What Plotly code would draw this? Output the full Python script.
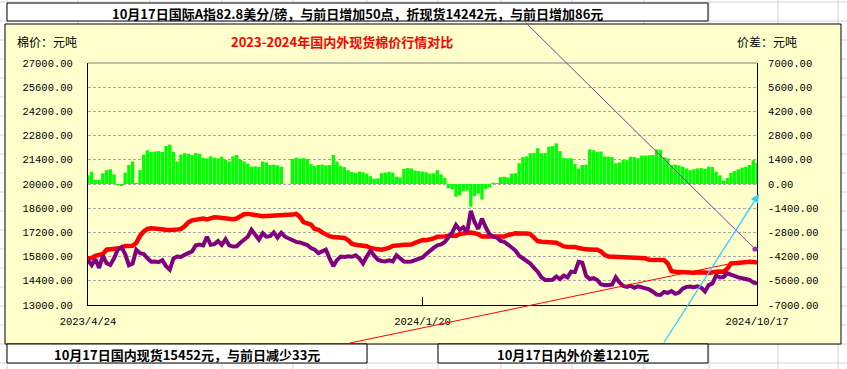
import plotly.graph_objects as go

W, H = 847, 369
PL, PR, PT, PB = 88, 757, 63, 305

x_tick_pos = [0, 90, 180]
x_tick_labels = ["2023/4/24", "2024/1/20", "2024/10/17"]

domestic = [
    15700, 15720, 15850, 15890, 15950, 16200, 16230, 16210, 16240, 16300,
    16420, 16400, 16430, 16600, 17000, 17250, 17400, 17440, 17420, 17450,
    17380, 17340, 17320, 17350, 17360, 17400, 17550, 17780, 17900, 17950,
    17960, 18000, 17950, 18050, 18080, 18060, 18030, 17990, 17980, 17960,
    18000, 18100, 18250, 18270, 18230, 18160, 18150, 18140, 18150, 18160,
    18140, 18150, 18160, 18150, 18180, 18230, 18270, 18100, 17800, 17720,
    17650, 17400, 17350, 17200, 17060, 16980, 16930, 16920, 16900, 16880,
    16750, 16550, 16480, 16460, 16470, 16400, 16300, 16240, 16220, 16200,
    16230, 16300, 16420, 16470, 16460, 16490, 16470, 16500, 16600, 16700,
    16760, 16750, 16780, 16850, 16950, 16990, 16970, 17000, 16990, 17010,
    17100, 17170, 17180, 17190, 17170, 17100, 16960, 16950, 16940, 16960,
    16950, 16930, 16960, 17050, 17130, 17150, 17140, 17150, 17130, 17100,
    16900, 16700, 16660, 16650, 16670, 16640, 16600, 16500, 16390, 16370,
    16380, 16360, 16300, 16230, 16220, 16210, 16230, 16200, 16100, 15900,
    15800, 15790, 15800, 15780, 15760, 15750, 15760, 15750, 15740, 15760,
    15700, 15610, 15600, 15610, 15590, 15600, 15400, 14950, 14920, 14900,
    14870, 14880, 14860, 14870, 14890, 14900, 14880, 14850, 14920, 14930,
    14940, 14920, 15100, 15400, 15420, 15450, 15500, 15510, 15500, 15485,
    15452,
]

international = [
    15600, 15300, 15650, 15150, 15850, 15420, 15320, 15700, 16200, 16350,
    15950, 15300, 15400, 16200, 16000, 15950, 15700, 15500, 15520, 15480,
    15600, 15250, 15050, 15700, 15800, 15780, 15900, 15980, 16100, 16450,
    16500, 16450, 16950, 16480, 16520, 16700, 16480, 16800, 16450, 16380,
    16400, 16600, 16750, 16950, 17350, 17100, 16780, 17150, 16950, 16980,
    17200, 16900, 17180, 16950, 16850, 16780, 16650, 16620, 16550, 16470,
    16300, 16200, 16000, 16100, 16200, 15700, 15250, 15600, 15800, 15780,
    15820, 15790, 15880, 15700, 15400, 15800, 16150, 15850, 15620, 15550,
    15520, 15580, 15520, 15880, 15700, 15510, 15500, 15520, 15600, 15680,
    15750, 15950, 16150, 16300, 16450, 16500, 16650, 16900, 17200, 17630,
    17350, 17500, 17200, 18450, 17800, 17400, 18000, 17500, 17100, 16950,
    16900, 16700, 16650, 16500, 16300, 16150, 15850, 15700, 15550, 15400,
    15150, 14930, 14600, 14450, 14440, 14460, 14650, 14500, 14700, 14600,
    14930, 14900, 15500, 15450, 14700, 14500, 14550, 14450, 14200, 14150,
    14160, 14180, 14600, 14300, 14100, 14050, 14120, 14000, 14080, 14030,
    14000, 13900, 13770, 13600, 13580, 13750, 13700, 13800, 13650, 13720,
    13950, 14050, 14070, 14030, 14080, 14000, 13780, 14150, 14250, 14700,
    14600, 14620, 14830, 14750, 14620, 14600, 14550, 14480, 14450, 14300,
    14242,
]

spread = [
    500, 700, 250, 230, 620, 800, 850, 550, -80, -120,
    650, 1100, 1300, 60, 800, 1700, 1950, 1850, 1880, 1900,
    1850, 2200, 2280, 1850, 1300, 1700, 1780, 1750, 1680, 1790,
    1750, 1500, 1480, 1600, 1520, 1480, 1580, 1400, 1300, 1600,
    1680, 1400, 1300, 1180, 1000, 1020, 980, 1300, 1250, 1100,
    1120, 1080, 1000, None, None, 1450, 1520, 1480, 1500, 1450,
    1150, 1050, 1100, 1120, 1080, 1100, 1680, 1300, 1050, 980,
    800, 700, 650, 720, 680, 600, 450, 300, 320, 620,
    660, 700, 650, 420, 380, 880, 920, 900, 780, 750,
    720, 680, 600, 620, 800, 550, 350, -250, -300, -730,
    -650, -400, -380, -1310, -700, -560, -900, -300, -200, 80,
    60, 400, 420, 380, 600, 620, 1200, 1550, 1600, 1780,
    1800, 2070, 1780, 1800, 2160, 2200, 2350, 1900, 1500, 1480,
    1490, 1150, 900, 1100, 1120, 2000, 1950, 1870, 1880, 1600,
    1580, 1550, 1200, 1250, 1400, 1380, 1580, 1560, 1490, 1650,
    1640, 1660, 1680, 2000, 1980, 1550, 1480, 1100, 1120, 1080,
    1000, 900, 800, 850, 900, 920, 880, 1000, 980, 700,
    500, 200, 350, 650, 750, 850, 950, 1000, 1100, 1380,
    1210,
]

left_tick_vals = [13000, 14400, 15800, 17200, 18600, 20000, 21400, 22800, 24200, 25600, 27000]
right_tick_vals = [-7000, -5600, -4200, -2800, -1400, 0, 1400, 2800, 4200, 5600, 7000]
left_tick_text = [f"{v:.2f}" for v in left_tick_vals]
right_tick_text = [f"{v:.2f}" for v in right_tick_vals]

title_text = "2023-2024年国内外现货棉价行情对比"
left_unit = "棉价：元吨"
right_unit = "价差：元吨"
top_note = "10月17日国际A指82.8美分/磅，与前日增加50点，折现货14242元，与前日增加86元"
bottom_left_note = "10月17日国内现货15452元，与前日减少33元"
bottom_right_note = "10月17日内外价差1210元"

idx = list(range(len(domestic)))


def fx(px):
    return (px - PL) / (PR - PL)


def fy(py):
    return (PB - py) / (PB - PT)


fig = go.Figure()
fig.add_trace(go.Bar(x=idx, y=spread, yaxis="y2", marker=dict(color="#00FF00", line=dict(width=0)),
                     name="价差"))
fig.add_trace(go.Scatter(x=idx, y=domestic, mode="lines", line=dict(color="#FF0000", width=4.5),
                         name="国内现货"))
fig.add_trace(go.Scatter(x=idx, y=international, mode="lines", line=dict(color="#800080", width=4),
                         name="国际折现货"))

shapes = []
GRID = "#D4D4D4"
for gy in range(2, H, 19):
    shapes.append(dict(type="line", xref="paper", yref="paper", x0=fx(0), x1=fx(W), y0=fy(gy), y1=fy(gy),
                       line=dict(color=GRID, width=1), layer="below"))
for gx in [7, 78, 150, 222, 293, 367, 438, 501, 572, 644, 709, 778, 838]:
    shapes.append(dict(type="line", xref="paper", yref="paper", x0=fx(gx), x1=fx(gx), y0=fy(0), y1=fy(H),
                       line=dict(color=GRID, width=1), layer="below"))
# chart area
shapes.append(dict(type="rect", xref="paper", yref="paper", x0=fx(5), x1=fx(841), y0=fy(344), y1=fy(24),
                   fillcolor="#FFFFCC", line=dict(color="black", width=1), layer="below"))
# plot top border
shapes.append(dict(type="line", xref="paper", yref="paper", x0=0, x1=1, y0=1, y1=1,
                   line=dict(color="#808080", width=1), layer="above"))
# note boxes
for (a, b, c, d) in [(7, 708, 3, 21), (7, 367, 344, 363), (438, 708, 344, 363)]:
    shapes.append(dict(type="rect", xref="paper", yref="paper", x0=fx(a), x1=fx(b), y0=fy(d), y1=fy(c),
                       fillcolor="white", line=dict(color="black", width=1), layer="above"))
# red pointer line
shapes.append(dict(type="line", xref="paper", yref="paper", x0=fx(350), y0=fy(343), x1=fx(738), y1=fy(262),
                   line=dict(color="#FF0000", width=1), layer="above"))

annotations = []
CJK = "Noto Sans CJK SC"
annotations.append(dict(xref="paper", yref="paper", x=fx(15), y=fy(41), xanchor="left", yanchor="middle",
                        text=left_unit, showarrow=False, font=dict(family=CJK, size=12, color="black")))
annotations.append(dict(xref="paper", yref="paper", x=fx(735), y=fy(41), xanchor="left", yanchor="middle",
                        text=right_unit, showarrow=False, font=dict(family=CJK, size=12, color="black")))
annotations.append(dict(xref="paper", yref="paper", x=fx(342), y=fy(41), xanchor="center", yanchor="middle",
                        text="<b>" + title_text + "</b>", showarrow=False,
                        font=dict(family=CJK, size=13, color="#FF0000")))
annotations.append(dict(xref="paper", yref="paper", x=fx(357), y=fy(13), xanchor="center", yanchor="middle",
                        text="<b>" + top_note + "</b>", showarrow=False,
                        font=dict(family=CJK, size=13, color="black")))
annotations.append(dict(xref="paper", yref="paper", x=fx(187), y=fy(354), xanchor="center", yanchor="middle",
                        text="<b>" + bottom_left_note + "</b>", showarrow=False,
                        font=dict(family=CJK, size=13, color="black")))
annotations.append(dict(xref="paper", yref="paper", x=fx(573), y=fy(354), xanchor="center", yanchor="middle",
                        text="<b>" + bottom_right_note + "</b>", showarrow=False,
                        font=dict(family=CJK, size=13, color="black")))
# purple pointer arrow
annotations.append(dict(xref="paper", yref="paper", x=fx(755), y=fy(249), ax=524 - 755, ay=21 - 249,
                        axref="pixel", ayref="pixel", text="", showarrow=True, arrowhead=6, arrowsize=1.3,
                        arrowwidth=1, arrowcolor="#9932B0", standoff=0, startstandoff=0))
# cyan pointer arrow
annotations.append(dict(xref="paper", yref="paper", x=fx(759), y=fy(194), ax=663 - 759, ay=344 - 194,
                        axref="pixel", ayref="pixel", text="", showarrow=True, arrowhead=2, arrowsize=1.3,
                        arrowwidth=1.3, arrowcolor="#33CCFF", standoff=0, startstandoff=0))

MONO = "Liberation Mono"
fig.update_layout(
    width=W, height=H, autosize=False,
    margin=dict(l=PL, r=W - PR, t=PT, b=H - PB, pad=0),
    paper_bgcolor="white", plot_bgcolor="rgba(0,0,0,0)",
    showlegend=False, bargap=0.1, hovermode=False,
    shapes=shapes, annotations=annotations,
    xaxis=dict(range=[0, len(domestic) - 1], tickmode="array", tickvals=x_tick_pos, ticktext=x_tick_labels,
               showgrid=False, zeroline=False, showline=True, linecolor="black", linewidth=1,
               ticks="inside", ticklen=8, tickcolor="black", ticklabelstandoff=6,
               tickfont=dict(family=MONO, size=10.5, color="black")),
    yaxis=dict(range=[13000, 27000], tickmode="array", tickvals=left_tick_vals, ticktext=left_tick_text,
               showgrid=True, gridcolor="#A8A8A8", griddash="3px,2px", gridwidth=1, zeroline=False,
               showline=True, linecolor="black", linewidth=1, ticks="", ticklabelstandoff=12,
               tickfont=dict(family=MONO, size=10.5, color="black")),
    yaxis2=dict(range=[-7000, 7000], overlaying="y", side="right", tickmode="array",
                tickvals=right_tick_vals, ticktext=right_tick_text, showgrid=False, zeroline=False,
                showline=True, linecolor="black", linewidth=1, ticks="", ticklabelstandoff=8,
                tickfont=dict(family=MONO, size=10.5, color="black")),
)

fig.write_html("out.html", config={"displayModeBar": False, "staticPlot": True},
               post_script="document.body.style.margin='0';document.body.style.overflow='hidden';")
